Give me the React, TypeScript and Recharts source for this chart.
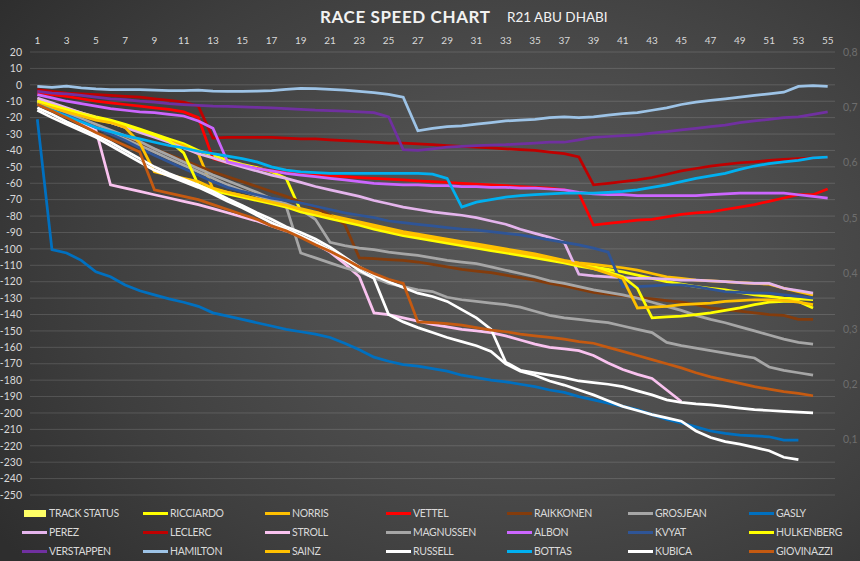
import React from 'react';
import {
  ComposedChart,
  Line,
  Bar,
  XAxis,
  YAxis,
  CartesianGrid,
} from 'recharts';

const LAPS = [
  1, 2, 3, 4, 5, 6, 7, 8, 9, 10, 11, 12, 13, 14, 15, 16, 17, 18, 19, 20,
  21, 22, 23, 24, 25, 26, 27, 28, 29, 30, 31, 32, 33, 34, 35, 36, 37, 38, 39, 40,
  41, 42, 43, 44, 45, 46, 47, 48, 49, 50, 51, 52, 53, 54, 55,
];

const LEFT_TICKS = [
  20, 10, 0, -10, -20, -30, -40, -50, -60, -70, -80, -90, -100, -110, -120, -130,
  -140, -150, -160, -170, -180, -190, -200, -210, -220, -230, -240, -250,
];
const RIGHT_TICKS = [0.1, 0.2, 0.3, 0.4, 0.5, 0.6, 0.7, 0.8];

const TRACK_STATUS = [
  0, 0, 0, 0, 0, 0, 0, 0, 0, 0, 0, 0, 0, 0, 0, 0, 0, 0, 0, 0,
  0, 0, 0, 0, 0, 0, 0, 0, 0, 0, 0, 0, 0, 0, 0, 0, 0, 0, 0, 0,
  0, 0, 0, 0, 0, 0, 0, 0, 0, 0, 0, 0, 0, 0, 0,
];

const RICCIARDO = [
  -9.5, -12, -14.5, -17, -19.5, -21.5, -24, -27, -30, -33,
  -36, -40, -43, -46, -48.5, -50.5, -53, -57, -77, -79,
  -81, -83, -85, -87, -89, -91, -92.5, -94, -95.5, -97,
  -98.5, -100, -101.5, -103, -104.5, -106, -108, -109.5, -111, -112.5,
  -114, -116, -118, -120, -121.5, -123, -124, -125, -126.5, -128,
  -129, -130, -130.5, -131, null,
];
const NORRIS = [
  -11, -13.5, -16, -18.5, -21, -23, -25.5, -28.5, -31.5, -34.5,
  -37, -42, -63.5, -65.5, -67.5, -69.5, -71.5, -73.5, -75.5, -77.5,
  -79.5, -81.5, -83.5, -85.5, -87.5, -89.5, -91, -92.5, -94, -95.5,
  -97, -98.5, -100, -101.5, -103, -105, -107, -108.5, -109.5, -110.5,
  -111.5, -113, -115, -117, -118, -119, -119.5, -120, -120.5, -121,
  -121.5, -124, -126, -128, null,
];
const VETTEL = [
  -4.5, -6, -7, -8.5, -10, -11, -12, -13, -14, -15,
  -16.5, -20, -45, -47.5, -49.5, -51, -52.5, -53.5, -54.5, -55,
  -55.5, -56, -56.5, -57, -57.5, -58, -58.5, -59, -59.5, -60,
  -60.5, -61, -61.5, -62, -62.5, -63, -64, -66, -85.5, -84.5,
  -83.5, -82.5, -82, -80.5, -79, -78, -77.5, -76, -74.5, -73,
  -71, -69, -67, -67, -63.5,
];
const RAIKKONEN = [
  -11, -14, -17.5, -21, -24.5, -28, -31.5, -35, -39, -42.5,
  -46, -49.5, -53, -56, -59, -62, -65, -68, -71.5, -75,
  -79.5, -85, -105.5, -106, -106.5, -107, -108, -109.5, -111, -112.5,
  -113.5, -114.5, -116, -117.5, -119, -121, -122.5, -124.5, -126.5, -127.5,
  -128.5, -129.5, -130.5, -131.5, -132.5, -134, -136, -137, -138, -139,
  -140, -140.5, -143, -143, null,
];
const GROSJEAN = [
  -12, -15, -18.5, -22, -26, -29.5, -33, -37, -41, -45,
  -49, -53, -57, -61, -64.5, -67.5, -70, -72.5, -76, -82,
  -96, -98, -99.5, -100.5, -102, -103, -104, -105.5, -107, -108,
  -109, -111, -113, -115, -117, -119.5, -121, -123, -125, -126.5,
  -128, -130, -132.5, -135, -137.5, -140.5, -143, -145, -147.5, -150,
  -152.5, -155, -157, -158, null,
];
const GASLY = [
  -21, -100.5, -102.5, -107, -114, -117, -122, -125.5, -128, -130.5,
  -132.5, -135, -139, -141, -143, -145, -147, -149, -150.5, -152,
  -154, -157.5, -161.5, -166, -168.5, -170.5, -171.5, -173, -174.5, -177,
  -178.5, -180, -181, -182.5, -184, -186, -187.5, -190, -192, -194,
  -196, -198, -201, -204, -206, -208.5, -211, -212.5, -213.5, -214,
  -214.5, -216.5, -216.5, null, null,
];
const PEREZ = [
  -8, -11, -14, -17, -20, -23, -26, -29, -32, -35,
  -38.5, -42, -44.5, -47.5, -50, -52.5, -55, -57, -59.5, -62,
  -64, -66, -68, -70.5, -72.5, -74.5, -76, -77.5, -78.5, -79.5,
  -81, -83, -85, -88, -90.5, -93, -96, -115.5, -116.5, -117,
  -117.5, -118, -118, -118.5, -119, -119, -119.5, -120, -120.5, -121,
  -121, -124, -125.5, -127, null,
];
const LECLERC = [
  -3, -4, -5, -5.5, -6, -6.5, -7, -7.5, -8.5, -9.5,
  -10.5, -13, -32.5, -32, -32, -32, -32, -32.5, -33, -33,
  -33.5, -34, -34.5, -35, -35.5, -35.5, -36, -36.5, -37, -37.5,
  -38, -38.5, -39, -39.5, -40, -41, -42, -44, -61, -60,
  -59, -58, -56.5, -54.5, -52.5, -51, -49.5, -48.5, -47.5, -47,
  -46, -45.5, -45, -44.5, -44,
];
const STROLL = [
  -10, -14, -18, -23, -27.5, -61, -63, -65, -67, -69,
  -71, -73, -75.5, -78, -80.5, -83, -86, -89, -92.5, -97,
  -102, -109, -117, -139, -140, -142, -144, -146, -147.5, -149,
  -150, -151, -153, -155.5, -158, -160, -161, -162, -165, -169.5,
  -173.5, -176.5, -179, -186, -193, null, null, null, null, null,
  null, null, null, null, null,
];
const MAGNUSSEN = [
  -10.5, -13.5, -17, -20.5, -24, -27.5, -31, -34.5, -39, -43,
  -47, -51, -55, -58.5, -62, -65.5, -69.5, -74, -102.5, -105.5,
  -108.5, -111.5, -114, -117.5, -121, -123, -125, -126, -129.5, -131,
  -132, -133, -134, -135.5, -138, -140.5, -142, -143, -144, -145,
  -147, -149, -151, -157, -159, -160.5, -162, -163.5, -165, -166.5,
  -172, -174, -175.5, -177, null,
];
const ALBON = [
  -6, -8, -10, -11.5, -13, -14.5, -15.5, -16.5, -17, -18,
  -19, -22, -26.5, -47, -49, -51, -52.5, -54, -55, -56,
  -57, -58, -59, -60, -60.5, -61, -61, -61.5, -61.5, -62,
  -62, -62.5, -62.5, -63, -63, -63.5, -64, -65.5, -66.5, -67,
  -67, -67.5, -67.5, -67.5, -67.5, -67.5, -67, -66.5, -66, -66,
  -66, -66, -67, -68, -69,
];
const KVYAT = [
  -12, -15, -18.5, -22, -26, -30, -34, -38.5, -43, -47,
  -51, -55, -59, -62.5, -65, -67, -69, -70.5, -72, -74,
  -76, -78, -79.5, -81, -83, -84, -85, -86, -87, -88,
  -88.5, -89.5, -90.5, -91.5, -93, -94.5, -96, -97.5, -99.5, -102,
  -123, -123, -122.5, -122, -122, -123, -124.5, -126, -126.5, -127,
  -127, -128, -129, -130, null,
];
const HULKENBERG = [
  -10, -12.5, -15, -17.5, -20, -22, -24.5, -27.5, -30.5, -34,
  -41.5, -61, -64.5, -66.5, -68.5, -70.5, -72.5, -74.5, -77.5, -79.5,
  -81.5, -83.5, -85.5, -88, -90, -92, -93.5, -95, -96.5, -98,
  -99.5, -101, -102.5, -104, -105.5, -107, -108.5, -110.5, -112, -114,
  -117, -124, -142, -141.5, -141, -140, -139, -137.5, -136, -134,
  -132.5, -132, -132, -136, null,
];
const VERSTAPPEN = [
  -4, -5, -5.5, -6.5, -7.5, -8.5, -9, -10, -10.5, -11.5,
  -12, -12.5, -13, -13.2, -13.5, -13.8, -14, -14.5, -15, -15.5,
  -15.8, -16, -16.5, -17, -19.5, -39.5, -40, -39, -38, -37.5,
  -37, -36.8, -36.5, -36, -35.5, -35, -35, -33.5, -32, -31.5,
  -31, -30.5, -29.5, -28.5, -27.5, -26.5, -25.5, -24.5, -23, -22,
  -21, -20, -19.5, -18, -16.5,
];
const HAMILTON = [
  -1, -1.5, -0.8, -1.8, -2.5, -3, -3, -3, -3.2, -3.5,
  -3.5, -3.3, -3.8, -4, -4, -3.8, -3.5, -2.8, -2.2, -2.3,
  -2.8, -3.3, -4, -4.8, -5.8, -7.5, -28, -26.5, -25.5, -25,
  -24, -23, -22, -21.5, -21, -20, -19.5, -20, -19.5, -18.5,
  -17.5, -17, -15.5, -14, -12, -10.5, -9.5, -8.5, -7.5, -6.5,
  -5.5, -4.5, -1, -0.5, -1,
];
const SAINZ = [
  -11.5, -14, -16.5, -19, -21.5, -23, -26, -35.5, -53, -55,
  -57, -59, -63, -65.5, -67.5, -69.5, -71.5, -73.5, -76, -78,
  -80, -82, -84, -86.5, -88.5, -90.5, -92, -93.5, -95, -96.5,
  -98, -99.5, -101, -102.5, -104, -105.5, -107.5, -109.5, -112, -115,
  -118, -136, -135.5, -135, -134, -133.5, -133, -132, -131.5, -131,
  -131, -131.5, -132.5, -134, null,
];
const RUSSELL = [
  -14, -18, -22.5, -26.5, -30.5, -35, -40, -45, -50, -54,
  -57.5, -61, -65, -69.5, -73.5, -78, -82, -86.5, -90, -94,
  -99, -105, -111, -116, -120, -123.5, -127, -129, -132, -137,
  -142, -149, -169, -174, -175.5, -177, -178.5, -180.5, -181.5, -182.5,
  -184, -186.5, -189, -192, -193.5, -194.5, -195, -196, -197, -198,
  -198.5, -199, -199.5, -200, null,
];
const BOTTAS = [
  -12, -15.5, -19, -22.5, -26, -28.5, -31, -33, -35, -37,
  -38.5, -40.5, -42, -43.5, -45, -47, -50, -52, -53, -53.5,
  -54, -54, -54, -54, -54, -54, -54, -54.5, -57, -74.5,
  -71.5, -70, -68.5, -67.5, -67, -66.5, -66, -66, -66, -65.5,
  -65, -64, -62.5, -61, -59, -57, -55.5, -54, -51.5, -49.5,
  -48, -47, -46, -44.5, -44,
];
const KUBICA = [
  -15.5, -20, -24, -28, -32, -37, -42, -47, -52, -55.5,
  -59, -62.5, -66.5, -71, -75, -79.5, -84, -88, -92, -96,
  -101, -107, -113, -118, -140, -144.5, -148, -151, -154, -156.5,
  -159, -162.5, -170, -174.5, -177, -180.5, -183, -186, -189, -192.5,
  -196, -198.5, -201, -203, -205, -211, -215, -217.5, -219, -221,
  -223, -227, -228.5, null, null,
];
const GIOVINAZZI = [
  -12, -16, -20, -24.5, -29, -33, -37, -41, -64, -66,
  -68, -70, -73, -76, -79, -82, -86, -89, -93, -97.5,
  -101.5, -106, -111, -115, -118.5, -121, -144.5, -145, -145.5, -146.5,
  -148, -149.5, -150.5, -152, -153, -154, -155, -156.5, -157.5, -160,
  -162.5, -165, -167.5, -170, -172.5, -175.5, -178, -180, -182, -184,
  -185.5, -187, -188, -189.5, null,
];

// legend order, row by row
const DRIVERS = [
  { key: 'RICCIARDO', color: '#ffff00', values: RICCIARDO },
  { key: 'NORRIS', color: '#ffc000', values: NORRIS },
  { key: 'VETTEL', color: '#ff0000', values: VETTEL },
  { key: 'RAIKKONEN', color: '#843c0c', values: RAIKKONEN },
  { key: 'GROSJEAN', color: '#a6a6a6', values: GROSJEAN },
  { key: 'GASLY', color: '#0070c0', values: GASLY },
  { key: 'PEREZ', color: '#e4b4ec', values: PEREZ },
  { key: 'LECLERC', color: '#c00000', values: LECLERC },
  { key: 'STROLL', color: '#f9c2ef', values: STROLL },
  { key: 'MAGNUSSEN', color: '#a6a6a6', values: MAGNUSSEN },
  { key: 'ALBON', color: '#cc66ff', values: ALBON },
  { key: 'KVYAT', color: '#2f5597', values: KVYAT },
  { key: 'HULKENBERG', color: '#ffff00', values: HULKENBERG },
  { key: 'VERSTAPPEN', color: '#7030a0', values: VERSTAPPEN },
  { key: 'HAMILTON', color: '#9dc3e6', values: HAMILTON },
  { key: 'SAINZ', color: '#ffc000', values: SAINZ },
  { key: 'RUSSELL', color: '#ffffff', values: RUSSELL },
  { key: 'BOTTAS', color: '#00b0f0', values: BOTTAS },
  { key: 'KUBICA', color: '#ffffff', values: KUBICA },
  { key: 'GIOVINAZZI', color: '#c55a11', values: GIOVINAZZI },
];

const rows = LAPS.map((lap, i) => {
  const row: Record<string, number | null> = { lap, TRACK: TRACK_STATUS[i] };
  DRIVERS.forEach((d) => {
    row[d.key] = d.values[i];
  });
  return row;
});

const LEGEND = [{ key: 'TRACK STATUS', color: '#ffff66', box: true }].concat(
  DRIVERS.map((d) => ({ key: d.key, color: d.color, box: false }))
);
const COL_X = [22, 143, 265, 386, 507, 628, 749];
const ROW_Y = [513, 532, 551];

const FONT = 'Lato, "Open Sans", sans-serif';

export default function App() {
  return (
    <div
      style={{
        position: 'absolute',
        left: 0,
        top: 0,
        width: 860,
        height: 561,
        overflow: 'hidden',
        fontFamily: FONT,
        background:
          'radial-gradient(ellipse 75% 85% at 62% 48%, #575757 0%, #4e4e4e 35%, #3e3e3e 70%, #2e2e2e 100%)',
      }}
    >
      <div
        style={{
          position: 'absolute',
          top: 6,
          left: 320,
          color: '#f2f2f2',
          whiteSpace: 'nowrap',
          fontSize: 17,
          fontWeight: 700,
          letterSpacing: 0.6,
        }}
      >
        RACE SPEED CHART
      </div>
      <div
        style={{
          position: 'absolute',
          top: 9,
          left: 507,
          color: '#f2f2f2',
          whiteSpace: 'nowrap',
          fontSize: 13.5,
        }}
      >
        R21 ABU DHABI
      </div>

      <div style={{ position: 'absolute', left: 0, top: 0 }}>
        <ComposedChart
          width={860}
          height={561}
          data={rows}
          margin={{ top: 32, right: 0, bottom: 66, left: 0 }}
        >
          <CartesianGrid
            yAxisId="left"
            vertical={false}
            stroke="rgba(255,255,255,0.14)"
          />
          <XAxis
            dataKey="lap"
            orientation="top"
            height={20}
            interval={1}
            tickLine={false}
            axisLine={false}
            tick={{ fill: '#d9d9d9', fontSize: 10, fontFamily: FONT }}
          />
          <YAxis
            yAxisId="left"
            domain={[-250, 20]}
            ticks={LEFT_TICKS}
            interval={0}
            width={30}
            tickLine={false}
            axisLine={false}
            tick={{ fill: '#d9d9d9', fontSize: 10.5, fontFamily: FONT }}
          />
          <YAxis
            yAxisId="right"
            orientation="right"
            domain={[0, 0.8]}
            ticks={RIGHT_TICKS}
            interval={0}
            width={25}
            tickLine={false}
            axisLine={false}
            tickFormatter={(v: number) => v.toFixed(1).replace('.', ',')}
            tick={{ fill: '#6e6e6e', fontSize: 10.5, fontFamily: FONT }}
          />
          <Bar
            yAxisId="right"
            dataKey="TRACK"
            name="TRACK STATUS"
            fill="#ffff66"
            isAnimationActive={false}
          />
          {DRIVERS.map((d) => (
            <Line
              key={d.key}
              yAxisId="left"
              type="linear"
              dataKey={d.key}
              stroke={d.color}
              strokeWidth={2.75}
              dot={false}
              activeDot={false}
              isAnimationActive={false}
            />
          ))}
        </ComposedChart>
      </div>

      {LEGEND.map((item, i) => {
        const col = i % 7;
        const row = Math.floor(i / 7);
        return (
          <div
            key={item.key}
            style={{
              position: 'absolute',
              left: COL_X[col],
              top: ROW_Y[row] - 8,
              height: 16,
              display: 'flex',
              alignItems: 'center',
              whiteSpace: 'nowrap',
            }}
          >
            {item.box ? (
              <div style={{ width: 22, height: 7, background: item.color, marginLeft: 2, marginRight: 3 }} />
            ) : (
              <div style={{ width: 25, height: 3, background: item.color, marginRight: 2 }} />
            )}
            <span style={{ color: '#d9d9d9', fontSize: 10.5, letterSpacing: -0.3 }}>{item.key}</span>
          </div>
        );
      })}
    </div>
  );
}
